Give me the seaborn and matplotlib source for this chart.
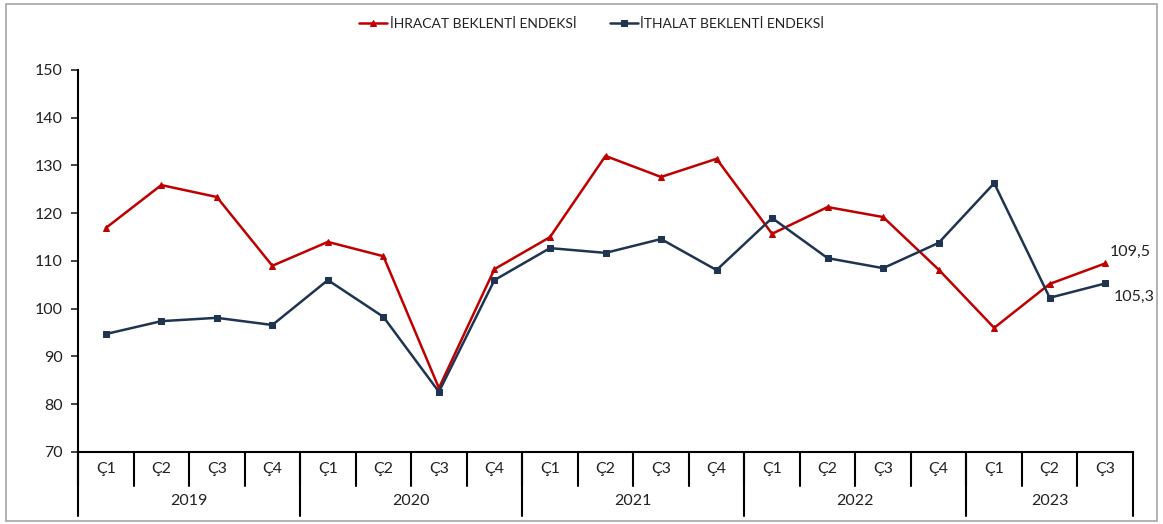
import numpy as np
import pandas as pd
import matplotlib
matplotlib.use("Agg")
import matplotlib.pyplot as plt
import matplotlib.transforms as mtransforms
from matplotlib.patches import Rectangle
import seaborn as sns

# data
years = ['2019', '2020', '2021', '2022', '2023']
quarters = ['Ç1', 'Ç2', 'Ç3', 'Ç4'] * 4 + ['Ç1', 'Ç2', 'Ç3']
ihracat = [116.9, 125.9, 123.4, 109.0, 114.0, 111.0, 83.4, 108.3, 115.0, 132.0,
           127.6, 131.4, 115.7, 121.3, 119.2, 108.2, 96.0, 105.2, 109.5]
ithalat = [94.7, 97.4, 98.1, 96.6, 106.0, 98.3, 82.6, 106.0, 112.7, 111.7,
           114.6, 108.1, 119.0, 110.6, 108.5, 113.8, 126.3, 102.3, 105.3]
quarters_per_year = [4, 4, 4, 4, 3]

df = pd.DataFrame({'idx': np.arange(len(quarters)), 'ihracat': ihracat, 'ithalat': ithalat})

sns.set_style('white')
plt.rcParams['font.family'] = ['Lato', 'DejaVu Sans']

fig = plt.figure(figsize=(11.63, 5.24), dpi=100)
ax = fig.add_axes([78/1163, 72/524, (1133-78)/1163, (452-70)/524])

red = '#c00000'
navy = '#1f3450'
sns.lineplot(data=df, x='idx', y='ihracat', ax=ax, color=red, lw=1.8, marker='^',
             markersize=5, markeredgecolor=red, label='İHRACAT BEKLENTİ ENDEKSİ')
sns.lineplot(data=df, x='idx', y='ithalat', ax=ax, color=navy, lw=1.8, marker='s',
             markersize=4.5, markeredgecolor=navy, label='İTHALAT BEKLENTİ ENDEKSİ')

ax.set_xlim(-0.5, len(quarters) - 0.5)
ax.set_ylim(70, 150)
ax.set_yticks(range(70, 151, 10))
ax.set_xticks([])
ax.set_xlabel('')
ax.set_ylabel('')
for s in ['top', 'right']:
    ax.spines[s].set_visible(False)
ax.spines['left'].set_color('black')
ax.spines['bottom'].set_color('black')
ax.spines['left'].set_linewidth(1.5)
ax.spines['bottom'].set_linewidth(1.5)
ax.tick_params(axis='y', which='both', left=True, length=5, width=1.2, labelsize=11.5, pad=6, colors='#222222')

# end labels
ax.annotate('109,5', (len(ihracat) - 1, ihracat[-1]), xytext=(3, 8), textcoords='offset points',
            fontsize=11.5, color='#222222', ha='left', va='center')
ax.annotate('105,3', (len(ithalat) - 1, ithalat[-1]), xytext=(6, -10), textcoords='offset points',
            fontsize=11.5, color='#222222', ha='left', va='center')

# category table under the axis
trans = mtransforms.blended_transform_factory(ax.transData, ax.transAxes)
row1 = -34 / 382
row2 = -64 / 382
for i, q in enumerate(quarters):
    ax.text(i, row1 / 2, q, transform=trans, ha='center', va='center', fontsize=11.5, color='#222222')
    ax.plot([i - 0.5, i - 0.5], [0, row1], transform=trans, color='black', lw=1.5, clip_on=False)
start = 0
bounds = [0]
for y, n in zip(years, quarters_per_year):
    mid = start + (n - 1) / 2
    ax.text(mid, (row1 + row2) / 2, y, transform=trans, ha='center', va='center', fontsize=11.5, color='#222222')
    start += n
    bounds.append(start)
for b in bounds:
    ax.plot([b - 0.5, b - 0.5], [0, row2], transform=trans, color='black', lw=1.5, clip_on=False)

leg = ax.legend(loc='upper center', bbox_to_anchor=(0.487, 1.17), ncol=2, frameon=False,
                fontsize=10, handlelength=2.0, columnspacing=2.4, handletextpad=0.2)
for t in leg.get_texts():
    t.set_color('#222222')

fig.patches.append(Rectangle((6/1163, 3/524), 1151/1163, 517/524, transform=fig.transFigure,
                             fill=False, edgecolor='#a6a6a6', lw=1.2))

plt.savefig('out.png', dpi=100)
